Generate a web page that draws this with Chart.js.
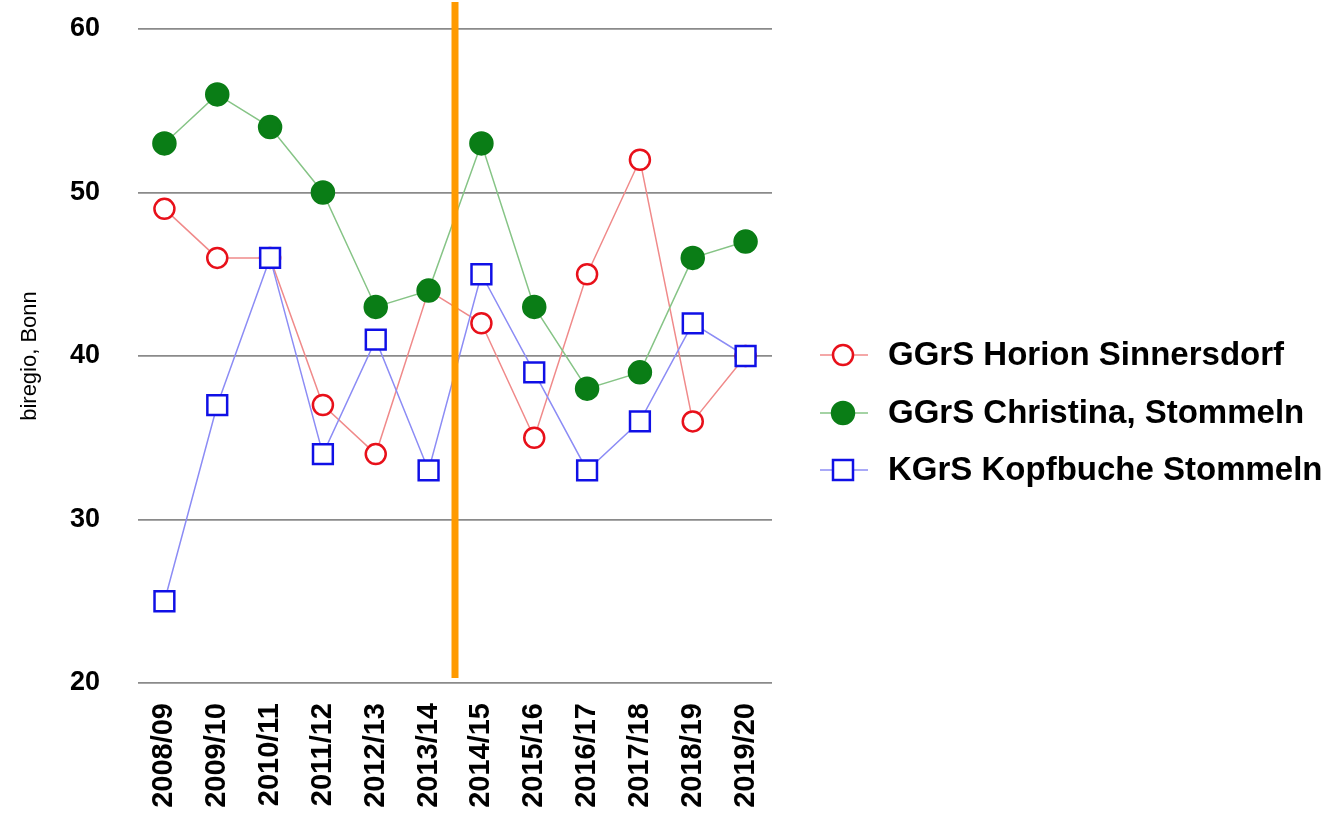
<!DOCTYPE html>
<html>
<head>
<meta charset="utf-8">
<script src="https://cdn.jsdelivr.net/npm/chart.js@4"></script>
<style>
  html, body { margin: 0; padding: 0; background: #fff; }
  #wrap { width: 1335px; height: 820px; }
</style>
</head>
<body>
<div id="wrap"><canvas id="chart"></canvas></div>
<script>
// ─── Data ───────────────────────────────
const years = ["2008/09", "2009/10", "2010/11", "2011/12", "2012/13", "2013/14",
               "2014/15", "2015/16", "2016/17", "2017/18", "2018/19", "2019/20"];
const horion     = [49, 46, 46, 37, 34, 44, 42, 35, 45, 52, 36, 40];
const christina  = [53, 56, 54, 50, 43, 44, 53, 43, 38, 39, 46, 47];
const kopfbuche  = [25, 37, 46, 34, 41, 33, 45, 39, 33, 36, 42, 40];
const yTicks     = [20, 30, 40, 50, 60];
const markerAfterIndex = 5; // orange line between 2013/14 and 2014/15

const FONT = "'Liberation Sans', Arial, sans-serif";

// ─── Series styles ──────────────────────
const series = [
  { label: "GGrS Horion Sinnersdorf", data: horion, order: 3,
    line: "#f08a8a", stroke: "#e8101a", fill: "#ffffff", style: "circle", r: 10 },
  { label: "GGrS Christina, Stommeln", data: christina, order: 2,
    line: "#86c486", stroke: "#0a7d16", fill: "#0a7d16", style: "circle", r: 11 },
  { label: "KGrS Kopfbuche Stommeln", data: kopfbuche, order: 1,
    line: "#8c8cf5", stroke: "#1010e6", fill: "#ffffff", style: "rect", r: 14 },
];

// ─── Plugins ────────────────────────────
const orangeLine = {
  id: "orangeLine",
  afterDatasetsDraw(chart) {
    const x = chart.scales.x;
    const px = (x.getPixelForValue(markerAfterIndex) + x.getPixelForValue(markerAfterIndex + 1)) / 2;
    const ctx = chart.ctx;
    ctx.save();
    ctx.strokeStyle = "#ff9a00";
    ctx.lineWidth = 7;
    ctx.beginPath();
    ctx.moveTo(px, 2);
    ctx.lineTo(px, chart.chartArea.bottom - 5);
    ctx.stroke();
    ctx.restore();
  },
};

const sideLegend = {
  id: "sideLegend",
  afterDraw(chart) {
    const ctx = chart.ctx;
    const x0 = chart.chartArea.right + 48;
    const rows = [355, 413, 470];
    ctx.save();
    series.forEach((s, i) => {
      const y = rows[i];
      const cx = x0 + 23;
      ctx.strokeStyle = s.line;
      ctx.lineWidth = 1.5;
      ctx.beginPath();
      ctx.moveTo(x0, y);
      ctx.lineTo(x0 + 48, y);
      ctx.stroke();
      ctx.lineWidth = 2.5;
      ctx.strokeStyle = s.stroke;
      ctx.fillStyle = s.fill;
      ctx.beginPath();
      if (s.style === "rect") {
        ctx.rect(cx - 10, y - 10, 20, 20);
      } else {
        ctx.arc(cx, y, s.r, 0, Math.PI * 2);
      }
      ctx.fill();
      ctx.stroke();
      ctx.fillStyle = "#000";
      ctx.font = `bold 33px ${FONT}`;
      ctx.textBaseline = "middle";
      ctx.textAlign = "left";
      ctx.fillText(s.label, x0 + 68, y + 1);
    });
    ctx.restore();
  },
};

// ─── Chart ──────────────────────────────
new Chart(document.getElementById("chart"), {
  type: "line",
  data: {
    labels: years,
    datasets: series.map(s => ({
      label: s.label,
      data: s.data,
      order: s.order,
      borderColor: s.line,
      borderWidth: 1.5,
      pointStyle: s.style,
      pointRadius: s.r,
      pointHoverRadius: s.r,
      pointBorderWidth: 2.5,
      pointBorderColor: s.stroke,
      pointBackgroundColor: s.fill,
      tension: 0,
    })),
  },
  options: {
    responsive: true,
    maintainAspectRatio: false,
    animation: false,
    layout: { padding: { top: 29, right: 563, bottom: 0, left: 0 } },
    plugins: { legend: { display: false }, tooltip: { enabled: false } },
    scales: {
      x: {
        offset: true,
        grid: { display: false, drawTicks: false },
        border: { display: false },
        ticks: {
          color: "#000", font: { family: FONT, size: 29, weight: "bold" },
          minRotation: 90, maxRotation: 90, padding: 20, autoSkip: false,
        },
        afterFit(scale) {
          scale.height = 137;
          scale.paddingLeft = 0;
          scale.paddingRight = 0;
        },
      },
      y: {
        min: 20, max: 60,
        afterBuildTicks(scale) { scale.ticks = yTicks.map(v => ({ value: v })); },
        grid: { color: "#8a8a8a", lineWidth: 1.8, drawTicks: false },
        border: { display: false },
        ticks: {
          color: "#000", font: { family: FONT, size: 27, weight: "bold" }, padding: 38,
        },
        title: {
          display: true, text: "biregio, Bonn", color: "#000",
          font: { family: FONT, size: 22 }, padding: { top: 17, bottom: 0 },
        },
        afterFit(scale) {
          scale.width = 138;
          scale.paddingTop = 0;
          scale.paddingBottom = 0;
        },
      },
    },
  },
  plugins: [orangeLine, sideLegend],
});
</script>
</body>
</html>
